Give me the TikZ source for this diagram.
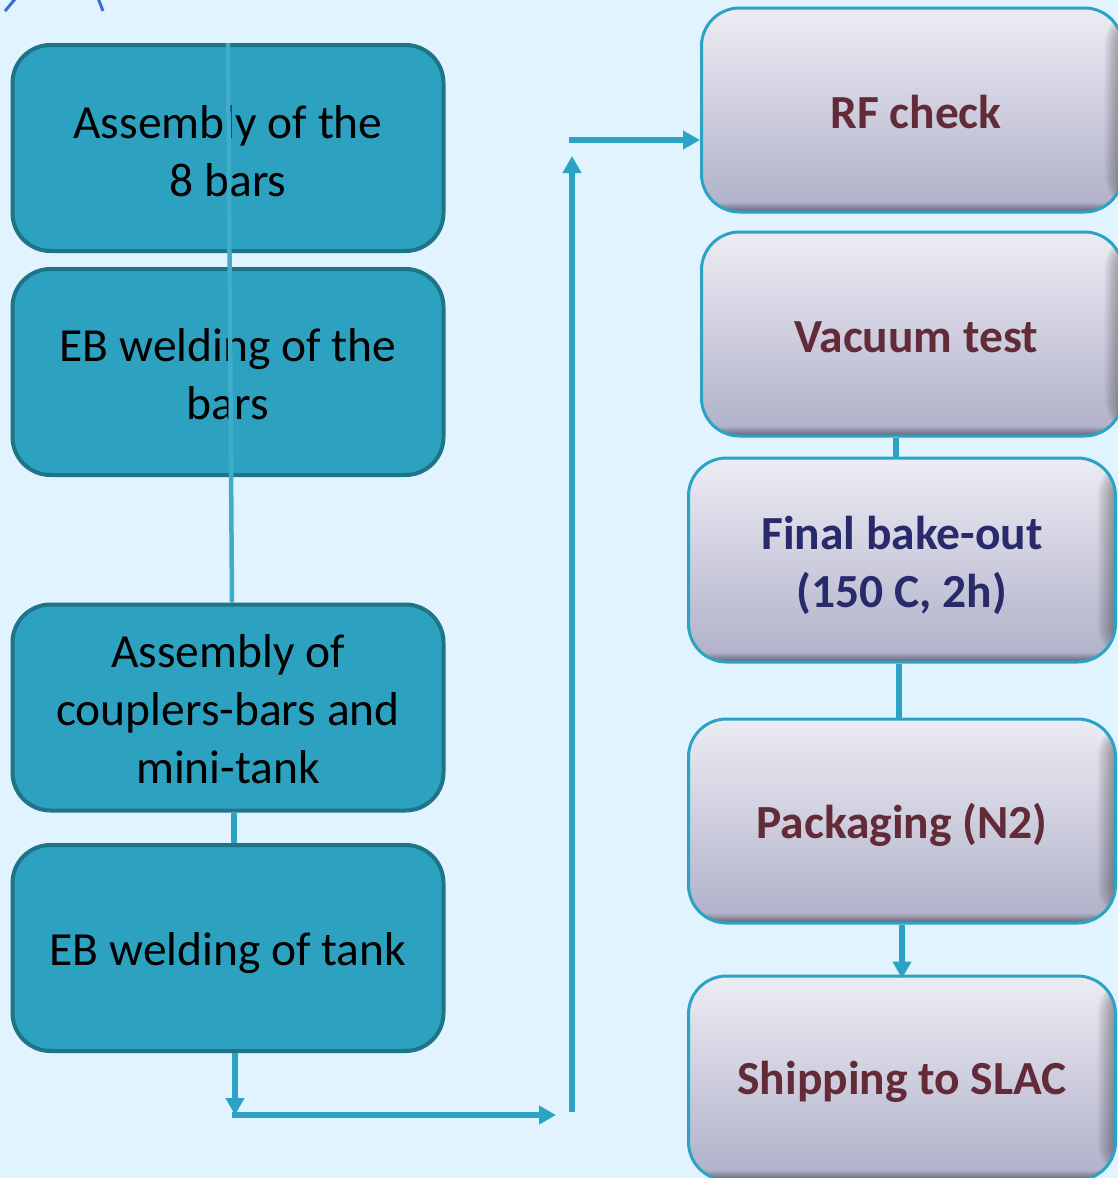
\documentclass[tikz,border=0pt]{standalone}
\usepackage{fontspec}
\setmainfont{Carlito}
\usetikzlibrary{arrows.meta,calc}
\definecolor{bg}{HTML}{E1F3FE}
\definecolor{tealfill}{HTML}{2CA2C0}
\definecolor{tealedge}{HTML}{1E7587}
\definecolor{conncol}{HTML}{2AA3C4}
\definecolor{maroon}{HTML}{632A37}
\definecolor{navy}{HTML}{282A6B}
\definecolor{gA}{HTML}{5E5E72}
\definecolor{gB}{HTML}{B2B2CA}
\definecolor{gC}{HTML}{BCBCD2}
\definecolor{gD}{HTML}{ECECF4}
\definecolor{markblue}{HTML}{3A6ED0}
\pgfdeclareverticalshading{rboxshade}{100bp}{color(0bp)=(gA); color(25bp)=(gA); color(27.5bp)=(gB); color(35bp)=(gC); color(75bp)=(gD); color(100bp)=(gD)}
\tikzset{
  leftbox/.style={draw=tealedge, line width=4pt, fill=tealfill, rounded corners=38pt,
    minimum width=431pt, minimum height=206pt, inner sep=0pt},
  lefttext/.style={align=center, text=black, font=\fontsize{47.5}{58}\selectfont, inner sep=0pt},
  rightbox/.style={draw=conncol, line width=3pt, rounded corners=38pt, shading=rboxshade,
    minimum height=204pt, inner sep=0pt,
    path picture={\foreach \k in {1,...,9}{\fill[black, opacity=0.045]
      ([xshift=-\k*2pt]path picture bounding box.north east) rectangle (path picture bounding box.south east);}}},
  righttext/.style={align=center, font=\fontsize{47.5}{58}\selectfont\bfseries, inner sep=0pt},
  conn/.style={draw=conncol, line width=6pt},
  arr/.style={conn, -{Triangle[length=17pt,width=18pt]}},
}
\begin{document}
\begin{tikzpicture}[x=1pt,y=-1pt]
\fill[bg] (0,0) rectangle (1118,1178);
\useasboundingbox (0,0) rectangle (1118,1178);
\begin{scope}
\clip (0,0) rectangle (1118,1178);
\draw[markblue, line width=3pt] (5,11) -- (16,-2);
\draw[markblue, line width=3pt] (98,-2) -- (103,11);

\node[leftbox, label={[lefttext, yshift=-3pt]center:Assembly of the\\8 bars}] (b1) at (228,148) {};
\node[leftbox, label={[lefttext, yshift=-2pt]center:EB welding of the\\bars}] (b2) at (228,372) {};
\node[leftbox, label={[lefttext, yshift=-2pt]center:Assembly of\\couplers-bars and\\mini-tank}] (b3) at (228,707.5) {};
\node[leftbox, label={[lefttext, yshift=-5pt]center:EB welding of tank}] (b4) at (228,948) {};

\node[rightbox, minimum width=421pt, label={[righttext, text=maroon, xshift=4pt, yshift=-2pt]center:RF check}] (r1) at (912,110) {};
\node[rightbox, minimum width=421pt, label={[righttext, text=maroon, xshift=4pt, yshift=-3pt]center:Vacuum test}] (r2) at (912,334) {};
\node[rightbox, minimum width=427pt, label={[righttext, text=navy, yshift=-5pt]center:Final bake-out\\(150 C, 2h)}] (r3) at (902,560) {};
\node[rightbox, minimum width=427pt, label={[righttext, text=maroon, yshift=-4pt]center:Packaging (N2)}] (r4) at (902,821) {};
\node[rightbox, minimum width=427pt, label={[righttext, text=maroon, yshift=-4pt]center:Shipping to SLAC}] (r5) at (902,1078) {};

\coordinate (c1) at (235,1115);
\coordinate (c2) at (556,1115);
\coordinate (c3) at (572,1115);
\coordinate (c4) at (572,156);
\coordinate (c5) at (572,140);

\draw[conn, draw=conncol!90!white, line width=4.5pt] (b1.north) -- ([xshift=4pt]b3.north);
\draw[conn] ([xshift=6pt]b3.south) -- ([xshift=6pt]b4.north);
\draw[arr] ([xshift=7pt]b4.south) -- (c1);
\draw[arr] ([xshift=-3pt]c1) -- (c2);
\draw[arr] ([yshift=3pt]c3) -- (c4);
\draw[arr] ([xshift=-3pt]c5) -- (c5 -| r1.west);
\draw[conn] ([xshift=-16pt]r2.south) -- ([xshift=-16pt]r2.south |- r3.north);
\draw[conn] ([xshift=-3pt]r3.south) -- ([xshift=-3pt]r4.north);
\draw[arr] (r4.south) -- ([yshift=-4pt]r5.north);
\end{scope}
\end{tikzpicture}
\end{document}
